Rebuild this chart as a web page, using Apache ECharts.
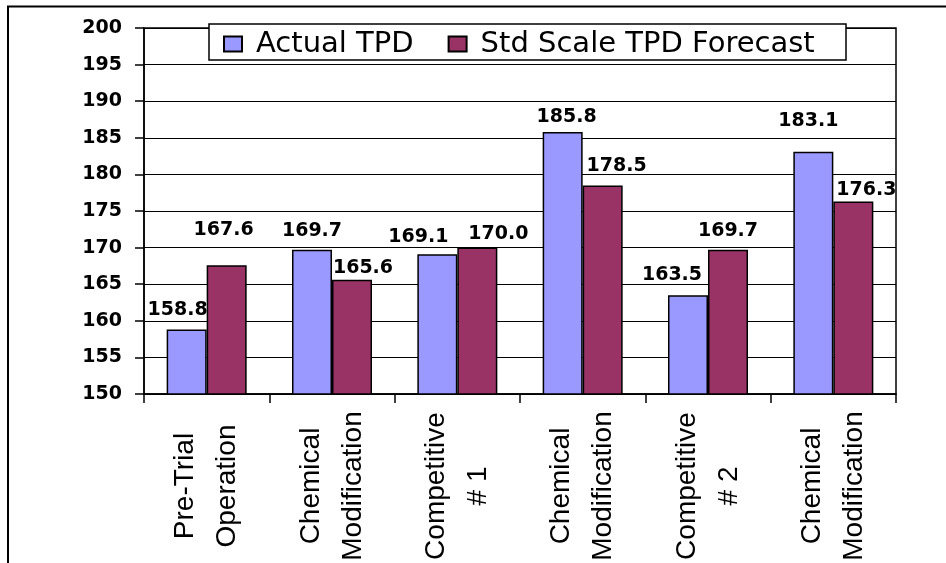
<!DOCTYPE html>
<html>
<head>
<meta charset="utf-8">
<script src="https://cdn.jsdelivr.net/npm/echarts@6/dist/echarts.min.js"></script>
<style>html,body{margin:0;padding:0;background:#fff;}#c{width:946px;height:563px;}</style>
</head>
<body>
<div id="c"></div>
<script>
const categories = ['Pre-Trial\nOperation', 'Chemical\nModification', 'Competitive\n# 1', 'Chemical\nModification', 'Competitive\n# 2', 'Chemical\nModification'];
const actualTPD = [158.8, 169.7, 169.1, 185.8, 163.5, 183.1];
const forecastTPD = [167.6, 165.6, 170.0, 178.5, 169.7, 176.3];
const seriesNames = ['Actual TPD', 'Std Scale TPD Forecast'];
const yTicks = {min: 150, max: 200, interval: 5};

// label placement tweaks (style only)
const actualOffsets = [[-9,-5],[0,-4],[-19,-3],[4,0],[-16,-6],[-5,-16]];
const forecastOffsets = [[-3,-21],[11,3],[21,1],[14,-5],[0,-4],[13,3]];

const labelStyle = {fontFamily: 'DejaVu Sans', fontWeight: 'bold', fontSize: 19, color: '#000'};

function mkData(vals, offs) {
  return vals.map((v, i) => ({value: v, label: {offset: offs[i]}}));
}

const chart = echarts.init(document.getElementById('c'), null, {renderer: 'canvas'});
chart.setOption({
  animation: false,
  backgroundColor: '#fff',
  grid: {left: 144, right: 50, top: 28, bottom: 169, show: true, borderColor: '#000', borderWidth: 1.5,
    containLabel: false, outerBoundsMode: 'none'},
  graphic: [
    {type: 'rect', shape: {x: 8, y: 6.5, width: 1000, height: 600}, style: {fill: null, stroke: '#000', lineWidth: 2}, silent: true, z: -1},
    {type: 'rect', shape: {x: 209, y: 24, width: 637, height: 36}, style: {fill: '#fff', stroke: '#000', lineWidth: 1.5}, silent: true, z: 5}
  ],
  legend: {
    left: 214, top: 26, itemWidth: 18, itemHeight: 15, itemGap: 34, padding: [3, 5, 3, 9],
    icon: 'rect', z: 10,
    textStyle: {fontFamily: 'DejaVu Sans', fontSize: 29, color: '#000', padding: [0, 0, 0, 9], lineHeight: 30},
    data: seriesNames
  },
  xAxis: {
    type: 'category', data: categories,
    axisLine: {lineStyle: {color: '#000', width: 1.5}},
    axisTick: {show: true, length: 9, lineStyle: {color: '#000', width: 1.5}, alignWithLabel: false},
    axisLabel: {rotate: 90, align: 'center', verticalAlign: 'middle', margin: 92, interval: 0,
      fontFamily: 'Liberation Sans', fontSize: 28, lineHeight: 42, color: '#000'}
  },
  yAxis: {
    type: 'value', min: yTicks.min, max: yTicks.max, interval: yTicks.interval,
    axisLine: {show: true, lineStyle: {color: '#000', width: 1.5}},
    axisTick: {show: true, length: 9, lineStyle: {color: '#000', width: 1.5}},
    splitLine: {lineStyle: {color: '#000', width: 1.2}},
    axisLabel: {margin: 22, fontFamily: 'DejaVu Sans', fontWeight: 'bold', fontSize: 19, color: '#000'}
  },
  series: [
    {name: seriesNames[0], type: 'bar', barWidth: 40, barGap: '0%', data: mkData(actualTPD, actualOffsets),
      itemStyle: {color: '#9999FF', borderColor: '#000', borderWidth: 1.5},
      label: Object.assign({show: true, position: 'top', distance: 5, formatter: p => p.value.toFixed(1)}, labelStyle)},
    {name: seriesNames[1], type: 'bar', barWidth: 40, barGap: '0%', data: mkData(forecastTPD, forecastOffsets),
      itemStyle: {color: '#993366', borderColor: '#000', borderWidth: 1.5},
      label: Object.assign({show: true, position: 'top', distance: 5, formatter: p => p.value.toFixed(1)}, labelStyle)}
  ]
});
</script>
</body>
</html>
